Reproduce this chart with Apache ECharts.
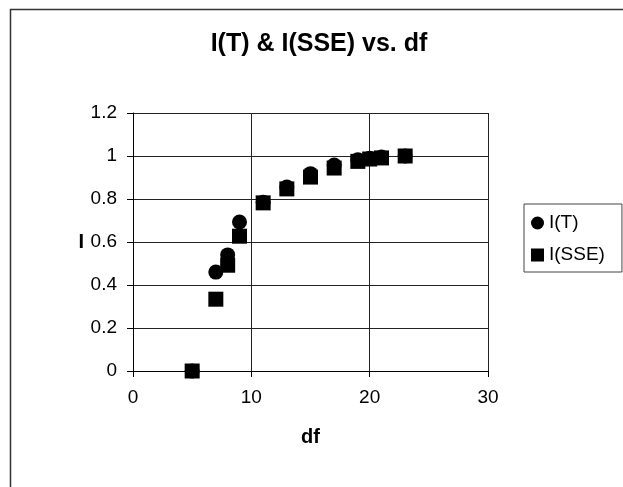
<!DOCTYPE html>
<html>
<head>
<meta charset="utf-8">
<script src="https://cdn.jsdelivr.net/npm/echarts@6/dist/echarts.min.js"></script>
<style>
html,body{margin:0;padding:0;background:#fff;}
#c{width:623px;height:487px;}
</style>
</head>
<body>
<div id="c"></div>
<script>
var df = [5, 7, 8, 9, 11, 13, 15, 17, 19, 20, 21, 23];
var iT = [0, 0.46, 0.54, 0.693, 0.785, 0.856, 0.918, 0.958, 0.983, 0.99, 0.995, 1.0];
var iSSE = [0, 0.334, 0.492, 0.627, 0.782, 0.847, 0.902, 0.944, 0.975, 0.986, 0.991, 1.0];
var seriesNames = ['I(T)', 'I(SSE)'];
var titleText = 'I(T) & I(SSE) vs. df';
var xName = 'df';
var yName = 'I';

function pairs(xs, ys) { return xs.map(function (x, i) { return [x, ys[i]]; }); }

var chart = echarts.init(document.getElementById('c'), null, {renderer: 'canvas'});
var font = 'Arial, "Liberation Sans", sans-serif';
chart.setOption({
  animation: false,
  backgroundColor: '#fff',
  textStyle: {fontFamily: font},
  title: {
    text: titleText, left: 314, top: 27, textAlign: 'center',
    textStyle: {fontFamily: font, fontSize: 25, fontWeight: 'bold', color: '#000'}
  },
  graphic: [{
    type: 'rect', shape: {x: 10.5, y: 9.5, width: 660, height: 520},
    style: {fill: 'none', stroke: '#333', lineWidth: 1.5}, silent: true
  }],
  legend: {
    orient: 'vertical', left: 524, top: 204,
    padding: [8, 17, 6, 7], itemGap: 10, itemWidth: 13, itemHeight: 13, itemTextGap: 6,
    borderColor: '#444', borderWidth: 1, backgroundColor: '#fff',
    textStyle: {fontFamily: font, fontSize: 19, color: '#000', lineHeight: 22},
    data: [{name: seriesNames[0], icon: 'circle'}, {name: seriesNames[1], icon: 'rect'}]
  },
  grid: {left: 133, top: 113, width: 355, height: 258, containLabel: false},
  xAxis: {
    type: 'value', min: 0, max: 30, interval: 10,
    name: xName, nameLocation: 'middle', nameGap: 56,
    nameTextStyle: {fontFamily: font, fontSize: 20, fontWeight: 'bold', color: '#000'},
    axisLine: {show: true, onZero: false, lineStyle: {color: '#000', width: 1}},
    axisTick: {show: true, inside: false, length: 6, lineStyle: {color: '#000'}},
    axisLabel: {fontFamily: font, fontSize: 19, color: '#000', margin: 17},
    splitLine: {show: true, lineStyle: {color: '#222', width: 1}}
  },
  yAxis: {
    type: 'value', min: 0, max: 1.2, interval: 0.2,
    name: yName, nameLocation: 'middle', nameRotate: 0, nameGap: 49,
    nameTextStyle: {fontFamily: font, fontSize: 20, fontWeight: 'bold', color: '#000'},
    axisLine: {show: true, onZero: false, lineStyle: {color: '#000', width: 1}},
    axisTick: {show: true, inside: false, length: 6, lineStyle: {color: '#000'}},
    axisLabel: {fontFamily: font, fontSize: 19, color: '#000', margin: 16},
    splitLine: {show: true, lineStyle: {color: '#222', width: 1}}
  },
  series: [
    {name: seriesNames[0], type: 'scatter', symbol: 'circle', symbolSize: 15,
     itemStyle: {color: '#000', opacity: 1}, data: pairs(df, iT), z: 2},
    {name: seriesNames[1], type: 'scatter', symbol: 'rect', symbolSize: 15,
     itemStyle: {color: '#000', opacity: 1}, data: pairs(df, iSSE), z: 3}
  ]
});
</script>
</body>
</html>
